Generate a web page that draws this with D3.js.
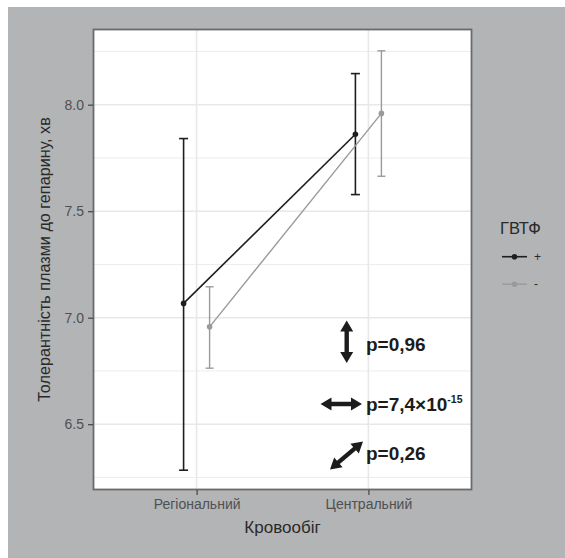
<!DOCTYPE html>
<html><head><meta charset="utf-8">
<script src="https://cdn.jsdelivr.net/npm/d3@7"></script>
<style>body{margin:0;background:#fff}svg{display:block}text{font-family:"Liberation Sans",Arial,sans-serif}</style>
</head><body>
<svg id="c" width="565" height="558"></svg>
<script>
const categories = ["Регіональний", "Центральний"];
const groups = ["+", "-"];
const meanPlus = [7.067, 7.861];
const lowerPlus = [6.284, 7.578];
const upperPlus = [7.841, 8.146];
const meanMinus = [6.957, 7.959];
const lowerMinus = [6.763, 7.664];
const upperMinus = [7.145, 8.253];
const yTicks = [6.5, 7.0, 7.5, 8.0];
const yMinor = [6.25, 6.75, 7.25, 7.75, 8.25];
const pLabels = ["p=0,96", "p=7,4×10", "p=0,26"];

const svg = d3.select("#c");
svg.append("rect").attr("x",8).attr("y",7).attr("width",557).attr("height",551).attr("fill","#b3b4b6");

const L = 93.5, R = 471.5, T = 29.5, B = 489.5;
const x = d3.scalePoint().domain(categories).range([L, R]).padding(0.6);
const y = d3.scaleLinear().domain([6.1934, 8.353]).range([B, T]);
const dodge = 13;

svg.append("rect").attr("x",L).attr("y",T).attr("width",R-L).attr("height",B-T).attr("fill","#fff");
const g = svg.append("g");
g.selectAll(".mn").data(yMinor).join("line").attr("x1",L).attr("x2",R)
  .attr("y1",d=>y(d)).attr("y2",d=>y(d)).attr("stroke","#ececec").attr("stroke-width",1);
g.selectAll(".mj").data(yTicks).join("line").attr("x1",L).attr("x2",R)
  .attr("y1",d=>y(d)).attr("y2",d=>y(d)).attr("stroke","#e8e8e8").attr("stroke-width",1.6);
g.selectAll(".vx").data(categories).join("line").attr("y1",T).attr("y2",B)
  .attr("x1",d=>x(d)).attr("x2",d=>x(d)).attr("stroke","#e8e8e8").attr("stroke-width",1.6);

const series = [
  {name:"+", mean:meanPlus, lo:lowerPlus, hi:upperPlus, color:"#1e1e1e", off:-dodge, cap:4.5, w:1.6},
  {name:"-", mean:meanMinus, lo:lowerMinus, hi:upperMinus, color:"#9a9a9a", off:dodge, cap:4, w:1.4}
];
series.forEach(s => {
  const pts = categories.map((c,i)=>({x:x(c)+s.off, m:s.mean[i], lo:s.lo[i], hi:s.hi[i]}));
  const sg = svg.append("g");
  sg.append("path").datum(pts).attr("fill","none").attr("stroke",s.color).attr("stroke-width",s.w)
    .attr("d", d3.line().x(d=>d.x).y(d=>y(d.m)));
  pts.forEach(p => {
    sg.append("line").attr("x1",p.x).attr("x2",p.x).attr("y1",y(p.lo)).attr("y2",y(p.hi)).attr("stroke",s.color).attr("stroke-width",s.w);
    [p.lo,p.hi].forEach(v => sg.append("line").attr("x1",p.x-s.cap).attr("x2",p.x+s.cap).attr("y1",y(v)).attr("y2",y(v)).attr("stroke",s.color).attr("stroke-width",s.w));
    sg.append("circle").attr("cx",p.x).attr("cy",y(p.m)).attr("r",2.8).attr("fill",s.color);
  });
});

svg.append("rect").attr("x",L).attr("y",T).attr("width",R-L).attr("height",B-T).attr("fill","none").attr("stroke","#6a6a6a").attr("stroke-width",1.8);

// axes
const ya = svg.append("g").attr("transform",`translate(${L-0.5},0)`)
  .call(d3.axisLeft(y).tickValues(yTicks).tickFormat(d3.format(".1f")).tickSize(5).tickPadding(4));
ya.select(".domain").remove();
ya.selectAll("line").attr("stroke","#444").attr("stroke-width",1.2);
ya.selectAll("text").attr("fill","#505050").attr("font-size",14).style("font-family","'Liberation Sans',Arial,sans-serif");
const xa = svg.append("g").attr("transform",`translate(0,${B+0.5})`)
  .call(d3.axisBottom(x).tickSize(5).tickPadding(4));
xa.select(".domain").remove();
xa.selectAll("line").attr("stroke","#444").attr("stroke-width",1.2);
xa.selectAll("text").attr("fill","#505050").attr("font-size",14).style("font-family","'Liberation Sans',Arial,sans-serif");

svg.append("text").attr("transform",`translate(50,${(T+B)/2}) rotate(-90)`).attr("text-anchor","middle")
  .attr("font-size",16.2).attr("fill","#2a2a2a").text("Толерантність плазми до гепарину, хв");
svg.append("text").attr("x",(L+R)/2).attr("y",533).attr("text-anchor","middle")
  .attr("font-size",17).attr("fill","#2a2a2a").text("Кровообіг");

// legend
svg.append("text").attr("x",500).attr("y",234).attr("font-size",16.5).attr("fill","#2a2a2a").text("ГВТФ");
series.forEach((s,i) => {
  const ly = 256.7 + i*27.5;
  svg.append("line").attr("x1",502).attr("x2",527).attr("y1",ly).attr("y2",ly).attr("stroke",s.color).attr("stroke-width",s.w);
  svg.append("circle").attr("cx",514.5).attr("cy",ly).attr("r",2.8).attr("fill",s.color);
  svg.append("text").attr("x",534).attr("y",ly+4).attr("font-size",12).attr("fill","#2a2a2a").text(groups[i]);
});

// annotations (arrows)
function dblArrow(x1,y1,x2,y2){
  const dx=x2-x1, dy=y2-y1, len=Math.hypot(dx,dy), ux=dx/len, uy=dy/len, px=-uy, py=ux;
  const hl=11, hw=6.5, sw=2.2;
  const pt=(t,o)=>[x1+ux*t+px*o, y1+uy*t+py*o];
  const P=[pt(0,0),pt(hl,hw),pt(hl,sw),pt(len-hl,sw),pt(len-hl,hw),pt(len,0),pt(len-hl,-hw),pt(len-hl,-sw),pt(hl,-sw),pt(hl,-hw)];
  svg.append("path").attr("d","M"+P.map(p=>p.join(",")).join("L")+"Z").attr("fill","#1c1c1c");
}
dblArrow(346.7,320.5,346.7,363);
dblArrow(320.5,404,362,404);
dblArrow(330,469.5,363,441.5);
const ann = svg.append("g").attr("font-weight","bold").attr("font-size",19).attr("fill","#1c1c1c");
ann.append("text").attr("x",366).attr("y",350.5).text(pLabels[0]);
const t2 = ann.append("text").attr("x",366).attr("y",411).text(pLabels[1]);
t2.append("tspan").attr("font-size",10.5).attr("dy",-8.5).text("-15");
ann.append("text").attr("x",366).attr("y",460).text(pLabels[2]);
</script>
</body></html>
